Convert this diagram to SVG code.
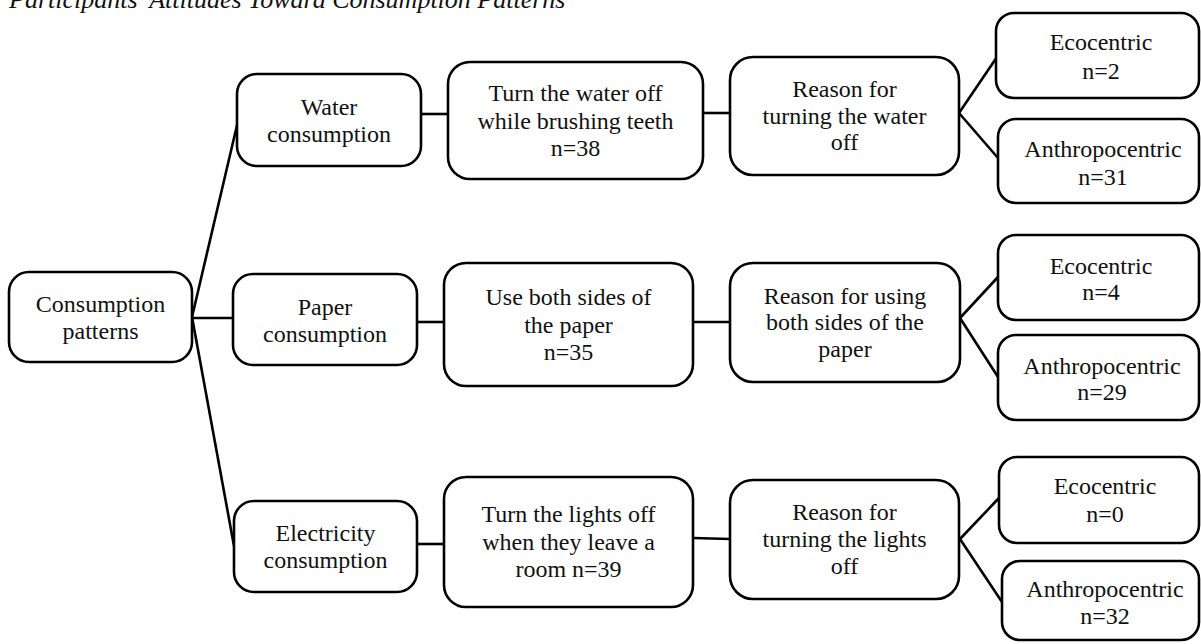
<svg xmlns="http://www.w3.org/2000/svg" width="1201" height="644" viewBox="0 0 1201 644">
<style>
.box{fill:#fff;stroke:#000;stroke-width:2.6}
.t{font-family:"Liberation Serif","Times New Roman",serif;font-size:24px;fill:#111;text-anchor:middle}
.title{font-family:"Liberation Serif","Times New Roman",serif;font-size:26px;font-style:italic;fill:#111}
.c{stroke:#000;stroke-width:2.6;fill:none}
</style>
<rect width="1201" height="644" fill="#fff"/>
<text class="title" x="9" y="8">Participants' Attitudes Toward Consumption Patterns</text>
<g id="connectors">
<line class="c" x1="192" y1="317" x2="238" y2="121"/>
<line class="c" x1="192" y1="318" x2="234" y2="318"/>
<line class="c" x1="192" y1="317" x2="234" y2="546"/>
<line class="c" x1="421" y1="114" x2="448" y2="114"/>
<line class="c" x1="703" y1="113" x2="730" y2="113"/>
<line class="c" x1="959" y1="113" x2="997" y2="57"/>
<line class="c" x1="959" y1="113" x2="998" y2="158"/>
<line class="c" x1="416" y1="322" x2="444" y2="322"/>
<line class="c" x1="693" y1="322" x2="730" y2="322"/>
<line class="c" x1="960" y1="318" x2="998" y2="277"/>
<line class="c" x1="960" y1="318" x2="998" y2="377"/>
<line class="c" x1="417" y1="544" x2="444" y2="544"/>
<line class="c" x1="693" y1="538" x2="730" y2="539"/>
<line class="c" x1="960" y1="539" x2="999" y2="498"/>
<line class="c" x1="960" y1="539" x2="1002" y2="602"/>
</g>
<g id="consumption">
<rect class="box" x="9" y="272" width="183" height="90" rx="20"/>
<text class="t" x="100.5" y="312">Consumption</text>
<text class="t" x="100.5" y="339">patterns</text>
</g>
<g id="water">
<rect class="box" x="237" y="74" width="184" height="92" rx="20"/>
<text class="t" x="329" y="115">Water</text>
<text class="t" x="329" y="142">consumption</text>
</g>
<g id="paper">
<rect class="box" x="233" y="274" width="184" height="91" rx="20"/>
<text class="t" x="325" y="315">Paper</text>
<text class="t" x="325" y="342">consumption</text>
</g>
<g id="electricity">
<rect class="box" x="234" y="501" width="183" height="91" rx="20"/>
<text class="t" x="325.5" y="541">Electricity</text>
<text class="t" x="325.5" y="568">consumption</text>
</g>
<g id="turn-water">
<rect class="box" x="448" y="62" width="255" height="117" rx="22"/>
<text class="t" x="575.5" y="101">Turn the water off</text>
<text class="t" x="575.5" y="128.5">while brushing teeth</text>
<text class="t" x="575.5" y="156">n=38</text>
</g>
<g id="use-both">
<rect class="box" x="444" y="263" width="249" height="123" rx="22"/>
<text class="t" x="568.5" y="305">Use both sides of</text>
<text class="t" x="568.5" y="333">the paper</text>
<text class="t" x="568.5" y="360">n=35</text>
</g>
<g id="turn-lights">
<rect class="box" x="444" y="477" width="249" height="130" rx="22"/>
<text class="t" x="568.5" y="522">Turn the lights off</text>
<text class="t" x="568.5" y="550">when they leave a</text>
<text class="t" x="568.5" y="577">room n=39</text>
</g>
<g id="reason-water">
<rect class="box" x="730" y="57" width="229" height="118" rx="23"/>
<text class="t" x="844.5" y="97">Reason for</text>
<text class="t" x="844.5" y="123.5">turning the water</text>
<text class="t" x="844.5" y="150">off</text>
</g>
<g id="reason-paper">
<rect class="box" x="730" y="263" width="230" height="119" rx="23"/>
<text class="t" x="845" y="303.5">Reason for using</text>
<text class="t" x="845" y="330">both sides of the</text>
<text class="t" x="845" y="357">paper</text>
</g>
<g id="reason-lights">
<rect class="box" x="730" y="480" width="229" height="119" rx="23"/>
<text class="t" x="844.5" y="520">Reason for</text>
<text class="t" x="844.5" y="547">turning the lights</text>
<text class="t" x="844.5" y="573.5">off</text>
</g>
<g id="eco-water">
<rect class="box" x="996" y="13" width="203" height="85" rx="18"/>
<text class="t" x="1101" y="50">Ecocentric</text>
<text class="t" x="1101" y="78.5">n=2</text>
</g>
<g id="anthro-water">
<rect class="box" x="998" y="119" width="201" height="84" rx="18"/>
<text class="t" x="1103" y="157">Anthropocentric</text>
<text class="t" x="1103" y="184.5">n=31</text>
</g>
<g id="eco-paper">
<rect class="box" x="998" y="235" width="201" height="85" rx="18"/>
<text class="t" x="1101" y="273.5">Ecocentric</text>
<text class="t" x="1101" y="300">n=4</text>
</g>
<g id="anthro-paper">
<rect class="box" x="998" y="335" width="201" height="85" rx="18"/>
<text class="t" x="1102" y="373.5">Anthropocentric</text>
<text class="t" x="1102" y="400">n=29</text>
</g>
<g id="eco-lights">
<rect class="box" x="999" y="457" width="200" height="86" rx="18"/>
<text class="t" x="1105" y="493.5">Ecocentric</text>
<text class="t" x="1105" y="522">n=0</text>
</g>
<g id="anthro-lights">
<rect class="box" x="1002" y="561" width="197" height="79" rx="18"/>
<text class="t" x="1105" y="597">Anthropocentric</text>
<text class="t" x="1105" y="623.5">n=32</text>
</g>
</svg>
